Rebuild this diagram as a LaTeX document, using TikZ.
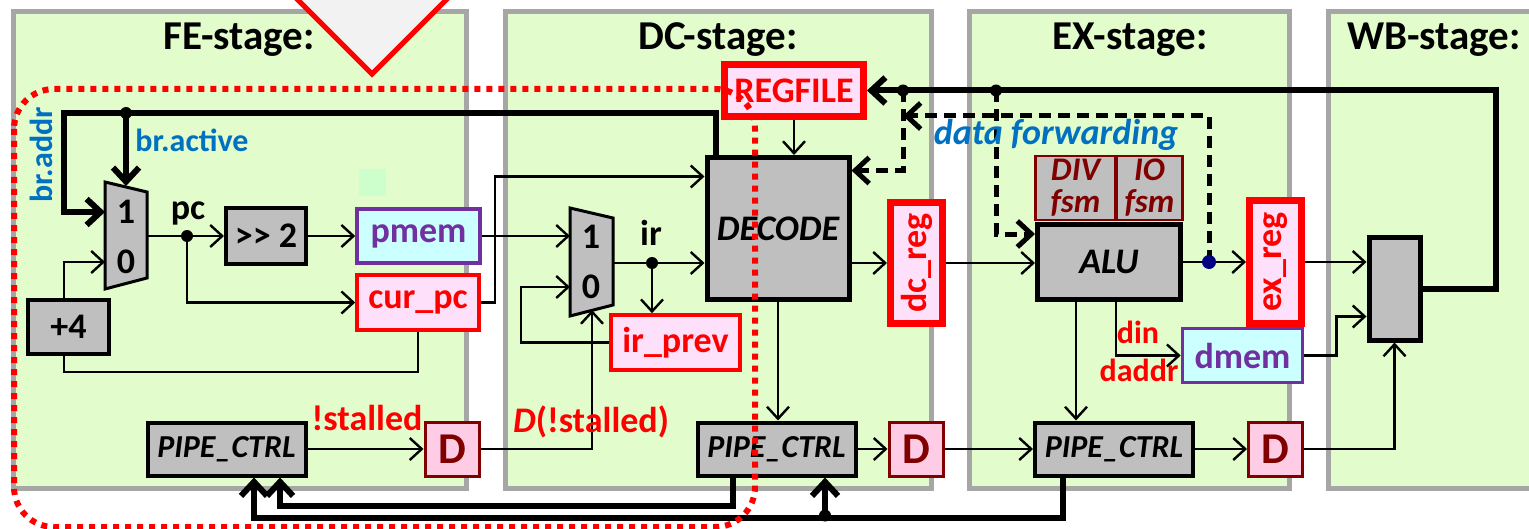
\documentclass[tikz,border=0pt]{standalone}
\usepackage{fontspec}
\setmainfont{Carlito}
\usepackage{graphicx}
\usepackage{tikz}
\usetikzlibrary{arrows.meta}

\definecolor{stagefill}{HTML}{E2FCCC}
\definecolor{stageline}{HTML}{A6A6A6}
\definecolor{boxgray}{HTML}{BFBFBF}
\definecolor{regpink}{HTML}{FFE0FA}
\definecolor{dpink}{HTML}{FFCCE6}
\definecolor{dred}{HTML}{800000}
\definecolor{memcyan}{HTML}{CCFFFF}
\definecolor{mempurple}{HTML}{7030A0}
\definecolor{lblblue}{HTML}{0070C0}
\definecolor{trigray}{HTML}{F2F2F2}
\definecolor{mint}{HTML}{CCFFCC}
\definecolor{dotnavy}{HTML}{000080}

\newcommand\sz[1]{\fontsize{#1}{#1}\selectfont}

\begin{document}
\begin{tikzpicture}[x=0.5pt,y=-0.5pt,
  stage/.style={fill=stagefill,draw=stageline,line width=2.5pt},
  title/.style={font=\sz{20.5}\bfseries,anchor=base,inner sep=0pt},
  wire/.style={line width=1.2pt},
  arr/.style={wire,-{Straight Barb[length=6pt,width=11pt]}},
  bus/.style={line width=3pt},
  busarr/.style={bus,-{Straight Barb[length=7pt,width=13pt]}},
  fwdarr/.style={line width=2.5pt,dash pattern=on 6pt off 3.5pt,-{Straight Barb[length=7pt,width=13pt]}},
  gbox/.style={draw,fill=boxgray,line width=2pt,inner sep=0pt,font=\sz{18}\bfseries},
  ctrl/.style={gbox,font=\sz{16}\bfseries\itshape,minimum width=79pt,minimum height=26.5pt},
  bigbox/.style={gbox,line width=2.5pt,font=\sz{18}\bfseries\itshape},
  regbox/.style={draw=red,fill=regpink,line width=1.8pt,text=red,inner sep=0pt,font=\sz{18}\bfseries},
  bigreg/.style={regbox,line width=3.5pt},
  membox/.style={draw=mempurple,fill=memcyan,line width=1.8pt,text=mempurple,inner sep=0pt,font=\sz{18}\bfseries},
  dbox/.style={draw=dred,fill=dpink,line width=1.5pt,text=dred,inner sep=0pt,minimum size=27pt,font=\sz{22}\bfseries},
  fsm/.style={draw=dred,fill=boxgray,line width=1.2pt,text=dred,inner sep=0pt,align=center,minimum height=32pt,font=\fontsize{16.5}{16}\selectfont\bfseries\itshape},
  mux/.style={draw,fill=boxgray,line width=1.5pt},
  lbl/.style={font=\sz{18}\bfseries,inner sep=0pt},
  bluelbl/.style={text=lblblue,font=\sz{16}\bfseries,inner sep=0pt},
  redlbl/.style={text=red,font=\sz{18}\bfseries,inner sep=0pt}]

\useasboundingbox (0,0) rectangle (1529,529);
\clip (0,0) rectangle (1529,529);

% stages
\foreach \xa/\xb in {13/466, 505/931, 969/1289, 1328/1560}
  \draw[stage] (\xa,12) rectangle (\xb,488);
\node[title] (tfe) at (239,50) {FE-stage:};
\node[title] (tdc) at (718,50) {DC-stage:};
\node[title] (tex) at (1130,50) {EX-stage:};
\node[title] (twb) at (1434,50) {WB-stage:};

\draw[draw=red,fill=trigray,line width=2.5pt] (256,-42) -- (372,74) -- (488,-42) -- cycle;
\fill[mint] (359,169) rectangle (386,196);

% FE
\draw[mux] (105,182) -- (147,192) -- (147,278) -- (105,289) -- cycle;
\node[lbl] (fe1) at (126,212) {1};
\node[lbl] (fe0) at (126,262) {0};
\coordinate (fein1) at (105,212);
\coordinate (fein0) at (105,262);
\coordinate (fetop) at (126,186);
\coordinate (feout) at (147,236);

\node[gbox,minimum width=40.5pt,minimum height=27pt] (plus4) at (68.5,327) {+4};
\node[gbox,minimum width=40pt,minimum height=27.5pt] (shift) at (266,236) {>\kern0pt> 2};
\node[membox,minimum width=61.5pt,minimum height=27pt] (pmem) at (418.5,236) {pmem};
\node[regbox,minimum width=61pt,minimum height=27.5pt] (curpc) at (418,302.5) {cur\_pc};
\node[ctrl] (pipefe) at (226.5,449) {PIPE\_CTRL};
\node[dbox] (dfe) at (452,449) {D};

\coordinate (pcdot) at (187,236);
\coordinate (brdot) at (126,113);
\draw[wire] (feout) -- (pcdot);
\draw[arr] (pcdot) -- (shift.west);
\draw[arr] (shift) -- (pmem);
\draw[arr] (pcdot) |- (curpc.west);
\draw[wire] (curpc.south) -- ++(0,40) -| ([xshift=-2.25pt]plus4.south);
\draw[arr] ([xshift=-2.25pt]plus4.north) |- (fein0);
\draw[arr] (pipefe) -- (dfe);
\fill (pcdot) circle (3pt);
\node[lbl,anchor=base] (pclbl) at (188,220) {pc};
\node[redlbl,anchor=base] (stl) at (367,430) {!stalled};

% DC
\draw[mux] (570,208) -- (613,218) -- (613,305) -- (570,316) -- cycle;
\node[lbl] (dc1) at (591,237) {1};
\node[lbl] (dc0) at (591,287) {0};
\coordinate (dcin1) at (570,236);
\coordinate (dcin0) at (570,287);
\coordinate (dcout) at (613,263);
\coordinate (dcbot) at (592,310);

\node[bigreg,minimum width=69.5pt,minimum height=26pt] (regfile) at (794,90.5) {REGFILE};
\node[bigbox,minimum width=71pt,minimum height=71pt] (decode) at (778,228.5) {DECODE};
\node[regbox,minimum width=64.5pt,minimum height=27.5pt] (irprev) at (675.5,342.5) {ir\_prev};
\node[bigreg,minimum width=26pt,minimum height=60pt] (dcreg) at (916.5,263) {\rotatebox{90}{dc\_reg}};
\node[ctrl] (pipedc) at (776.5,449) {PIPE\_CTRL};
\node[dbox] (ddc) at (916,449) {D};

\coordinate (irdot) at (652,263);
\draw[arr] (pmem.east) -- (dcin1);
\draw[arr] (dfe.east) -| (dcbot);
\draw[arr] (curpc.east) -- ++(14,0) |- ([yshift=26pt]decode.west);
\draw[wire] (dcout) -- (irdot);
\draw[arr] (irdot) -- (irdot -| decode.west);
\draw[arr] (irdot) -- (irdot |- irprev.north);
\draw[arr] (irprev.west) -- ++(-88,0) |- (dcin0);
\draw[arr] (regfile.south) -- (regfile.south |- decode.north);
\draw[arr] (decode.east |- dcreg) -- (dcreg.west);
\draw[arr] (decode.south) -- (decode.south |- pipedc.north);
\draw[arr] (pipedc) -- (ddc);
\fill (irdot) circle (3pt);
\node[lbl,anchor=base] (irlbl) at (651,245) {ir};
\node[redlbl,anchor=base] (dstl) at (591,432) {\textit{D}(!stalled)};

% EX
\node[bigbox,minimum width=71.5pt,minimum height=37.5pt] (alu) at (1109,262) {ALU};
\node[fsm,minimum width=40pt] (divfsm) at (1075.5,188) {DIV\\fsm};
\node[fsm,minimum width=33pt] (iofsm) at (1149.5,188) {IO\\fsm};
\node[bigreg,minimum width=26pt,minimum height=61.5pt] (exreg) at (1275.5,262) {\rotatebox{90}{ex\_reg}};
\node[membox,minimum width=60pt,minimum height=27pt] (dmem) at (1242.5,355.5) {dmem};
\node[ctrl] (pipeex) at (1114,449) {PIPE\_CTRL};
\node[dbox] (dex) at (1275.5,449) {D};

\coordinate (fwddot) at (1209,262);
\draw[arr] (dcreg.east) -- (dcreg.east -| alu.west);
\draw[wire] (alu.east) -- (fwddot);
\draw[arr] (fwddot) -- (exreg.west);
\draw[arr] ([xshift=-16.5pt]alu.south) -- ([xshift=-16.5pt]alu.south |- pipeex.north);
\draw[arr] ([xshift=3.5pt]alu.south) |- (dmem.west);
\draw[arr] (ddc) -- (pipeex);
\draw[arr] (pipeex) -- (dex);
\node[text=red,font=\sz{16}\bfseries,inner sep=0pt,anchor=base] (din) at (1138,343) {din};
\node[text=red,font=\sz{16}\bfseries,inner sep=0pt,anchor=base] (daddr) at (1139,381) {daddr};

% WB
\node[gbox,line width=2.5pt,minimum width=25.5pt,minimum height=51.5pt] (wbmux) at (1394.5,288.5) {};
\draw[arr] (exreg.east) -- (exreg.east -| wbmux.west);
\draw[arr] (dmem.east) -- ++(32,0) |- ([yshift=-14pt]wbmux.west);
\draw[arr] (dex.east) -| (wbmux.south);

% write back, branch and stall lines
\coordinate (rfdot1) at (903,90.5);
\coordinate (rfdot2) at (996,90.5);
\coordinate (fwdjoin) at (903,116);
\coordinate (ctrldot) at (825,515.5);
\draw[busarr] (wbmux.east) -- ++(73,0) |- (regfile.east);
\draw[busarr] ([xshift=-31pt]decode.north) |- (brdot) -- ++(-62,0) |- (fein1);
\draw[busarr] (brdot) -- (fetop);
\draw[busarr] ([xshift=-21.75pt]pipedc.south) -- ++(0,28) -| ([xshift=26.75pt]pipefe.south);
\draw[busarr] ([xshift=-25.5pt]pipeex.south) -- ++(0,40) -| ([xshift=13.75pt]pipefe.south);
\draw[busarr] (ctrldot) -- (ctrldot |- pipedc.south);
\fill (brdot) circle (3pt);
\fill (rfdot1) circle (3pt);
\fill (rfdot2) circle (3pt);
\fill (ctrldot) circle (3pt);

% forwarding
\draw[fwdarr] (rfdot1) |- ([yshift=29pt]decode.east);
\draw[fwdarr] (fwddot) |- (fwdjoin);
\draw[fwdarr] (rfdot2) |- ([yshift=14pt]alu.west);
\fill[dotnavy] (fwddot) circle (3.5pt);

\node[bluelbl,anchor=base west] (bract) at (135,152) {br.active};
\node[bluelbl,rotate=90] (braddr) at (41,155) {br.addr};
\node[text=lblblue,font=\sz{18}\bfseries\itshape,inner sep=0pt,anchor=base] (fwdlbl) at (1056,145) {data forwarding};

% stall region
\draw[red,line width=3pt,dash pattern=on 3pt off 3pt,rounded corners=20pt] (14,89) rectangle (755,527);

\end{tikzpicture}
\end{document}
